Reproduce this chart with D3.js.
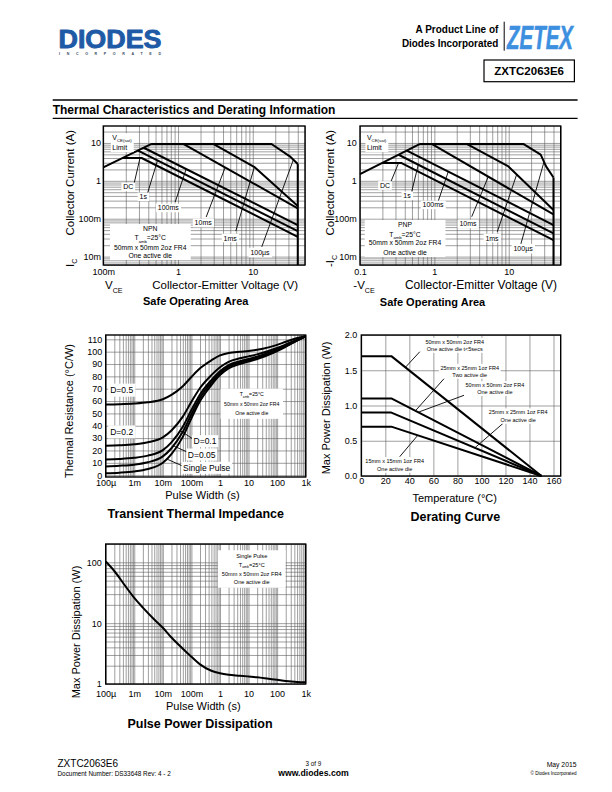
<!DOCTYPE html>
<html><head><meta charset="utf-8">
<script src="https://cdn.jsdelivr.net/npm/d3@7/dist/d3.min.js"></script>
<style>html,body{margin:0;padding:0;background:#fff;}svg{display:block;}</style>
</head><body>
<svg id="page" width="612" height="792" xmlns="http://www.w3.org/2000/svg"></svg>
<script>
// ======================= DATA =======================
// Safe Operating Area – NPN  (Vce [V], Ic [A])
const npnVsatLimit = [[0.1, 2.26], [0.442, 9.4]];
const npnDC    = [[0.181, 4.0], [0.326, 4.0], [40, 0.0333]];
const npn1s    = [[0.292, 6.3], [40, 0.047]];
const npn100ms = [[0.348, 7.47], [40, 0.068]];
const npn10ms  = [[0.442, 9.4], [1.175, 9.4], [40, 0.188]];
const npn1ms   = [[0.442, 9.4], [2.96, 9.4], [10.7, 2.26], [40, 0.216]];
const npn100us = [[0.442, 9.4], [17.8, 9.4], [31.3, 4.43], [40, 2.77]];
// Safe Operating Area – PNP  (-Vce [V], -Ic [A])
const pnpVsatLimit = [[0.1, 1.5], [0.642, 9.4]];
const pnpDC    = [[0.198, 2.94], [0.363, 2.94], [40, 0.0272]];
const pnp1s    = [[0.331, 4.88], [40, 0.0408]];
const pnp100ms = [[0.427, 6.3], [40, 0.068]];
const pnp10ms  = [[0.642, 9.4], [0.92, 9.4], [40, 0.13]];
const pnp1ms   = [[0.642, 9.4], [2.72, 9.4], [9.9, 2.4], [40, 0.17]];
const pnp100us = [[0.642, 9.4], [15.7, 9.4], [26.9, 4.9], [31.8, 2.4], [40, 1.22]];
const breakdownV = 40;
const soaCurveNames = ["DC", "1s", "100ms", "10ms", "1ms", "100µs"];
const soaXTicks = [0.1, 1, 10];
const npnXTickLabels = ["100m", "1", "10"];
const pnpXTickLabels = ["0.1", "1", "10"];
const soaYTicks = [0.01, 0.1, 1, 10];
const soaYTickLabels = ["10m", "100m", "1", "10"];
// annotation anchors (data units)
const npnLabelAt  = [[0.216, 0.69], [0.342, 0.377], [0.74, 0.192], [2.17, 0.0769], [4.98, 0.0308], [12.5, 0.0131]];
const npnLeadFrom = [[0.259, 0.869], [0.391, 0.472], [0.917, 0.277], [2.38, 0.111], [5.93, 0.0472], [13.2, 0.0181]];
const npnLeadTipV = [0.31, 0.532, 1.285, 4.27, 10.5, 34.9];
const pnpLabelAt  = [[0.217, 0.75], [0.429, 0.4], [0.96, 0.231], [2.83, 0.0723], [5.96, 0.0308], [15.6, 0.0167]];
const pnpLeadFrom = [[0.259, 0.924], [0.496, 0.52], [1.13, 0.295], [3.18, 0.113], [7.02, 0.0452], [14.2, 0.0181]];
const pnpLeadTipV = [0.33, 0.608, 1.54, 5.31, 12.8, 29.8];
const npnInfoAt = [0.425, [0.0533, 0.0308, 0.0177, 0.0109]];
const pnpInfoAt = [0.403, [0.068, 0.039, 0.0227, 0.0131]];
const npnLimitAt = [0.132, [13.8, 7.5]];
const pnpLimitAt = [0.124, [13.8, 7.5]];

// Transient Thermal Impedance (pulse width [s], Rth [°C/W])
const thTime   = [1e-4, 3e-4, 1e-3, 3e-3, 1e-2, 2e-2, 5e-2, 0.1, 0.2, 0.5, 1, 2, 5, 10, 20, 50, 100, 200, 500, 1000];
const thD05    = [57.3, 57.5, 58, 59, 61.5, 65, 72, 79.5, 86.5, 93, 97, 99, 100, 100.5, 101.5, 103.5, 105.5, 108, 111, 112.5];
const thD02    = [23.8, 24.2, 25, 26.6, 30.6, 36.2, 47.4, 59.4, 70.6, 81, 87.4, 91.8, 94.6, 96.2, 97.8, 100.6, 103, 105.8, 109.8, 112.5];
const thD01    = [12.7, 13.1, 14, 15.8, 20.3, 26.6, 39.2, 52.7, 65.3, 77, 84.2, 89.2, 92.3, 94.1, 95.9, 99.1, 101.8, 104.9, 109.4, 112.5];
const thD005   = [7.1, 7.6, 8.5, 10.4, 15.2, 21.8, 35.1, 49.3, 62.7, 75, 82.6, 87.8, 91.2, 93.1, 95, 98.3, 101.1, 104.4, 109.2, 112.5];
const thSingle = [1.5, 2, 3, 5, 10, 17, 31, 46, 60, 73, 81, 86.5, 90, 92, 94, 97.5, 100.5, 104, 109, 112.5];
const thTicks = [1e-4, 1e-3, 1e-2, 0.1, 1, 10, 100, 1000];
const thTickLabels = ["100µ", "1m", "10m", "100m", "1", "10", "100", "1k"];
const thYTicks = [0, 10, 20, 30, 40, 50, 60, 70, 80, 90, 100, 110];
const thBoxLabelAt = {"D=0.5": [3.63e-4, 68.8], "D=0.2": [3.63e-4, 35]};
const thLeadLabels = ["D=0.1", "D=0.05", "Single Pulse"];
const thLeadLabelAt = [[0.299, 27.5], [0.229, 16.7], [0.343, 5.9]];
const thLeadFrom = [[0.107, 29.7], [0.0684, 18.9], [0.048, 7.5]];
const thLeadTipT = [0.04, 0.023, 0.0136];
const thInfoAt = [12.9, [65.5, 57.2, 49.9]];

// Derating Curve (temperature [°C], power [W])
const derTemp = [0, 25, 150];
const derPower = [[1.7, 1.7, 0], [1.1, 1.1, 0], [0.9, 0.9, 0], [0.7, 0.7, 0]];
const derXTicks = [0, 20, 40, 60, 80, 100, 120, 140, 160];
const derYTicks = [0, 0.5, 1.0, 1.5, 2.0];
const derNoteLines = [
  ["50mm x 50mm 2oz FR4", "One active die t<5secs"],
  ["25mm x 25mm 1oz FR4", "Two active die"],
  ["50mm x 50mm 2oz FR4", "One active die"],
  ["25mm x 25mm 1oz FR4", "One active die"],
  ["15mm x 15mm 1oz FR4", "One active die"]];
const derNoteAt = [[77.8, [1.905, 1.80]], [90.3, [1.536, 1.433]], [111.2, [1.291, 1.187]], [130.6, [0.904, 0.794]], [27.8, [0.213, 0.099]]];
const derLeadFrom = [[48.7, 1.763], [70.3, 1.408], [86.2, 1.149], [118.1, 0.748], [32, 0.274]];
const derLeadTipT = [36.7, 45, 47.3, 94.5, 47];
const derLeadSeries = [0, 1, 1, 2, 3];

// Pulse Power Dissipation (pulse width [s], power [W])
const ppTime  = [1e-4, 2e-4, 5e-4, 1e-3, 2e-3, 5e-3, 1e-2, 2e-2, 5e-2, 0.1, 0.2, 0.5, 1, 2, 5, 10, 20, 50, 100, 200, 500, 1000];
const ppPower = [103, 72, 40, 26, 18, 11.5, 8.4, 5.8, 3.8, 2.8, 2.1, 1.65, 1.5, 1.42, 1.37, 1.33, 1.29, 1.22, 1.17, 1.12, 1.08, 1.07];
const ppYTicks = [1, 10, 100];
const ppYTickLabels = ["1", "10", "100"];
const ppInfoAt = [12.9, [128, 91.4, 64.4, 46.9]];

// ======================= DRAWING =======================
const FONT = "'Liberation Sans', Arial, Helvetica, sans-serif";
const GRID_C = "#5e5e5e", GRID_W = 0.6, CURVE_W = 2, TICK_FS = 9;
const svg = d3.select("#page").attr("font-family", FONT);
svg.append("rect").attr("width", 612).attr("height", 792).attr("fill", "#fff");

function logGrid(lo, hi) {
  const v = [];
  for (let e = Math.floor(Math.log10(lo)) - 1; e <= Math.ceil(Math.log10(hi)); e++)
    for (let m = 1; m < 10; m++) { const x = +(m * Math.pow(10, e)).toPrecision(6); if (x >= lo * 0.999 && x <= hi * 1.001) v.push(x); }
  return v;
}
function rich(sel, parts, fs) {
  let shift = 0;
  parts.forEach(p => {
    const [t, k] = Array.isArray(p) ? p : [p, null];
    const ts = sel.append("tspan").text(t);
    if (k === "sub") { const s = fs * 0.3; ts.attr("font-size", fs * 0.62).attr("dy", s - shift); shift = s; }
    else if (shift) { ts.attr("dy", -shift); shift = 0; }
  });
  return sel;
}
function interp(curve, xv, lx, ly) {
  const fx = v => lx ? Math.log10(v) : v, fy = v => ly ? Math.log10(v) : v, gy = v => ly ? Math.pow(10, v) : v;
  for (let i = 0; i < curve.length - 1; i++) {
    const a = curve[i], b = curve[i + 1];
    if (xv >= a[0] && xv <= b[0]) { const t = (fx(xv) - fx(a[0])) / (fx(b[0]) - fx(a[0])); return gy(fy(a[1]) + t * (fy(b[1]) - fy(a[1]))); }
  }
  return curve[curve.length - 1][1];
}
function panelBase(o) {
  const g = svg.append("g");
  const { x, y } = o;
  const [x0, x1] = x.range(), yb = y.range()[0], yt = y.range()[1];
  const gx = g.append("g").attr("transform", `translate(0,${yb})`)
    .call(d3.axisBottom(x).tickValues(o.xGrid).tickSize(-(yb - yt)).tickFormat(""));
  gx.select(".domain").remove();
  gx.selectAll("line").attr("stroke", GRID_C).attr("stroke-width", GRID_W);
  const gy = g.append("g").attr("transform", `translate(${x0},0)`)
    .call(d3.axisLeft(y).tickValues(o.yGrid).tickSize(-(x1 - x0)).tickFormat(""));
  gy.select(".domain").remove();
  gy.selectAll("line").attr("stroke", GRID_C).attr("stroke-width", GRID_W);
  g.append("rect").attr("x", x0).attr("y", yt).attr("width", x1 - x0).attr("height", yb - yt)
    .attr("fill", "none").attr("stroke", "#000").attr("stroke-width", 1.4);
  const tx = g.append("g").attr("transform", `translate(0,${yb})`)
    .call(d3.axisBottom(x).tickValues(o.xTicks).tickFormat((d, i) => o.xLabels[i]).tickSize(0).tickPadding(o.xPad));
  tx.select(".domain").remove(); tx.attr("font-family", FONT).attr("font-size", TICK_FS);
  const ty = g.append("g").attr("transform", `translate(${x0},0)`)
    .call(d3.axisLeft(y).tickValues(o.yTicks).tickFormat((d, i) => o.yLabels[i]).tickSize(0).tickPadding(o.yPad));
  ty.select(".domain").remove(); ty.attr("font-family", FONT).attr("font-size", TICK_FS);
  return g;
}
function drawCurve(g, x, y, data, smooth) {
  g.append("path").datum(data)
    .attr("d", d3.line().x(d => x(d[0])).y(d => y(d[1])).curve(smooth ? d3.curveMonotoneX : d3.curveLinear))
    .attr("fill", "none").attr("stroke", "#000").attr("stroke-width", CURVE_W)
    .attr("stroke-linejoin", "round").attr("stroke-linecap", "butt");
}
function leader(g, x1, y1, x2, y2) {
  g.append("line").attr("x1", x1).attr("y1", y1).attr("x2", x2).attr("y2", y2)
    .attr("stroke", "#000").attr("stroke-width", 0.9);
}
function boxedBlock(g, cx, ys, lines, fs, pad, anchor) {
  const gg = g.append("g");
  lines.forEach((parts, i) => {
    const t = gg.append("text").attr("x", cx).attr("y", ys[i]).attr("dy", "0.35em")
      .attr("font-size", fs).attr("text-anchor", anchor || "middle").attr("fill", "#000");
    rich(t, Array.isArray(parts) ? parts : [parts], fs);
  });
  const b = gg.node().getBBox();
  gg.insert("rect", ":first-child").attr("x", b.x - pad[0]).attr("y", b.y - pad[1])
    .attr("width", b.width + 2 * pad[0]).attr("height", b.height + 2 * pad[1]).attr("fill", "#fff");
  return gg;
}
function text(g, x, y, str, fs, anchor, weight) {
  return g.append("text").attr("x", x).attr("y", y).attr("font-size", fs)
    .attr("text-anchor", anchor || "start").attr("font-weight", weight || "normal").attr("fill", "#000").text(str);
}
function rotText(g, x, y, parts, fs, anchor) {
  const t = g.append("text").attr("transform", `translate(${x},${y}) rotate(-90)`)
    .attr("font-size", fs).attr("text-anchor", anchor).attr("fill", "#000");
  return rich(t, parts, fs);
}

// ---------- header ----------
const hdr = svg.append("g");
hdr.append("text").attr("x", 58.5).attr("y", 48.3).attr("font-size", 25).attr("font-weight", "bold")
  .attr("fill", "#1f5aa6").attr("stroke", "#1f5aa6").attr("stroke-width", 0.9).attr("stroke-linejoin", "round")
  .attr("textLength", 103).attr("lengthAdjust", "spacingAndGlyphs").text("DIODES");
hdr.append("text").attr("x", 59).attr("y", 55.2).attr("font-size", 3.6).attr("font-weight", "bold")
  .attr("fill", "#3a4a66").attr("textLength", 102).attr("lengthAdjust", "spacing").text("INCORPORATED");
hdr.append("text").attr("x", 498.3).attr("y", 33).attr("font-size", 10.5).attr("font-weight", "bold")
  .attr("text-anchor", "end").attr("textLength", 82.7).attr("lengthAdjust", "spacingAndGlyphs").text("A Product Line of");
hdr.append("text").attr("x", 498.3).attr("y", 46.5).attr("font-size", 10.5).attr("font-weight", "bold")
  .attr("text-anchor", "end").attr("textLength", 96.4).attr("lengthAdjust", "spacingAndGlyphs").text("Diodes Incorporated");
hdr.append("line").attr("x1", 504.2).attr("x2", 504.2).attr("y1", 21.7).attr("y2", 50.7).attr("stroke", "#000").attr("stroke-width", 1);
hdr.append("text").attr("x", 507).attr("y", 49.3).attr("font-size", 33).attr("font-weight", "bold").attr("font-style", "italic")
  .attr("fill", "#3d8fe0").attr("stroke", "#3d8fe0").attr("stroke-width", 0.6)
  .attr("textLength", 66).attr("lengthAdjust", "spacingAndGlyphs").text("ZETEX");
hdr.append("rect").attr("x", 484).attr("y", 60).attr("width", 90.4).attr("height", 21.7).attr("fill", "none").attr("stroke", "#000").attr("stroke-width", 1.2);
text(hdr, 529.2, 75, "ZXTC2063E6", 11.5, "middle", "bold");
hdr.append("line").attr("x1", 52.7).attr("x2", 577.6).attr("y1", 100).attr("y2", 100).attr("stroke", "#000").attr("stroke-width", 1.3);
hdr.append("line").attr("x1", 52.7).attr("x2", 577.6).attr("y1", 118.3).attr("y2", 118.3).attr("stroke", "#000").attr("stroke-width", 1.3);
text(hdr, 52.7, 114, "Thermal Characteristics and Derating Information", 12, "start", "bold");

// ---------- SOA panels ----------
function soaPanel(cfg) {
  const x = d3.scaleLog().domain([0.1, 50]).range(cfg.xr);
  const y = d3.scaleLog().domain([0.006, 28]).range([265, 126]);
  const g = panelBase({ x, y, xGrid: logGrid(0.1, 50), yGrid: logGrid(0.006, 28),
    xTicks: soaXTicks, xLabels: cfg.xLabels, xPad: 3.3, yTicks: soaYTicks, yLabels: soaYTickLabels, yPad: cfg.yPad });
  const curves = cfg.curves;
  drawCurve(g, x, y, cfg.limit);
  curves.forEach(c => drawCurve(g, x, y, c));
  const last = curves[curves.length - 1];
  drawCurve(g, x, y, [[breakdownV, last[last.length - 1][1]], [breakdownV, y.domain()[0]]]);
  soaCurveNames.forEach((n, i) => {
    const f = cfg.leadFrom[i], tv = cfg.leadTip[i];
    leader(g, x(f[0]), y(f[1]), x(tv), y(interp(curves[i], tv, true, true)));
    boxedBlock(g, x(cfg.labelAt[i][0]), [y(cfg.labelAt[i][1])], [n], 7, [1.8, 0.8]);
  });
  boxedBlock(g, x(cfg.infoAt[0]), cfg.infoAt[1].map(y), [cfg.type, ["T", ["amb", "sub"], "=25°C"], "50mm x 50mm 2oz FR4", "One active die"], 6.8, [4, 1.5]);
  boxedBlock(g, x(cfg.limitAt[0]), cfg.limitAt[1].map(y), [["V", ["CE(sat)", "sub"]], "Limit"], 7, [1.5, 1], "start");
  const t = svg.append("g");
  rotText(t, cfg.yTitleX, 267, cfg.yTitleStart, 11.5, "start");
  rotText(t, cfg.yTitleX, 130, ["Collector Current (A)"], 11.5, "end");
  const xt = t.append("text").attr("x", cfg.xTitleStartX).attr("y", 289.3).attr("font-size", 11.5).attr("fill", "#000");
  rich(xt, cfg.xTitleStart, 11.5);
  text(t, cfg.xTitleEndX, 289.3, "Collector-Emitter Voltage (V)", cfg.xTitleFs, "end");
  text(t, cfg.titleX, cfg.titleY, "Safe Operating Area", 11, "middle", "bold");
}
soaPanel({ xr: [103.3, 305], xLabels: npnXTickLabels, yPad: 2.3, limit: npnVsatLimit,
  curves: [npnDC, npn1s, npn100ms, npn10ms, npn1ms, npn100us],
  labelAt: npnLabelAt, leadFrom: npnLeadFrom, leadTip: npnLeadTipV, infoAt: npnInfoAt, limitAt: npnLimitAt, type: "NPN",
  yTitleX: 74, yTitleStart: ["I", ["C", "sub"]], xTitleStartX: 105, xTitleStart: ["V", ["CE", "sub"]],
  xTitleEndX: 298, xTitleFs: 11.5, titleX: 195.7, titleY: 305 });
soaPanel({ xr: [360, 560.7], xLabels: pnpXTickLabels, yPad: 3.3, limit: pnpVsatLimit,
  curves: [pnpDC, pnp1s, pnp100ms, pnp10ms, pnp1ms, pnp100us],
  labelAt: pnpLabelAt, leadFrom: pnpLeadFrom, leadTip: pnpLeadTipV, infoAt: pnpInfoAt, limitAt: pnpLimitAt, type: "PNP",
  yTitleX: 334, yTitleStart: ["-I", ["C", "sub"]], xTitleStartX: 353.3, xTitleStart: ["-V", ["CE", "sub"]],
  xTitleEndX: 557, xTitleFs: 12, titleX: 432.5, titleY: 306 });

// ---------- Transient thermal impedance ----------
(function () {
  const x = d3.scaleLog().domain([1e-4, 1e3]).range([105.7, 305.7]);
  const y = d3.scaleLinear().domain([-1.5, 113.5]).range([477, 335]);
  const g = panelBase({ x, y, xGrid: logGrid(1e-4, 1e3), yGrid: thYTicks,
    xTicks: thTicks, xLabels: thTickLabels, xPad: 2.4, yTicks: thYTicks, yLabels: thYTicks.map(String), yPad: 3.5 });
  const series = [thD05, thD02, thD01, thD005, thSingle].map(s => thTime.map((t, i) => [t, s[i]]));
  series.forEach(s => drawCurve(g, x, y, s, true));
  Object.entries(thBoxLabelAt).forEach(([k, p]) => boxedBlock(g, x(p[0]), [y(p[1])], [k], 8.5, [2, 1.5]));
  const leadSeries = [series[2], series[3], series[4]];
  thLeadLabels.forEach((n, i) => {
    const f = thLeadFrom[i], tv = thLeadTipT[i];
    leader(g, x(f[0]), y(f[1]), x(tv), y(interp(leadSeries[i], tv, true, false)));
    boxedBlock(g, x(thLeadLabelAt[i][0]), [y(thLeadLabelAt[i][1])], [n], 8.5, [1.5, 1]);
  });
  boxedBlock(g, x(thInfoAt[0]), thInfoAt[1].map(y), [["T", ["amb", "sub"], "=25°C"], "50mm x 50mm 2oz FR4", "One active die"], 5.2, [3.5, 2.5]);
  rotText(svg, 72.5, 411, ["Thermal Resistance (°C/W)"], 11, "middle");
  text(svg, 202.5, 499, "Pulse Width (s)", 11, "middle");
  text(svg, 195.7, 518, "Transient Thermal Impedance", 12.5, "middle", "bold");
})();

// ---------- Derating curve ----------
(function () {
  const x = d3.scaleLinear().domain([0, 166]).range([361.3, 560.7]);
  const y = d3.scaleLinear().domain([0, 2]).range([476, 335]);
  const g = panelBase({ x, y, xGrid: derXTicks, yGrid: derYTicks,
    xTicks: derXTicks, xLabels: derXTicks.map(String), xPad: 1.6, yTicks: derYTicks, yLabels: derYTicks.map(d3.format(".1f")), yPad: 4 });
  const series = derPower.map(p => derTemp.map((t, i) => [t, p[i]]));
  series.forEach(s => drawCurve(g, x, y, s));
  derNoteLines.forEach((lines, i) => {
    const f = derLeadFrom[i], tv = derLeadTipT[i];
    leader(g, x(f[0]), y(f[1]), x(tv), y(interp(series[derLeadSeries[i]], tv, false, false)));
    boxedBlock(g, x(derNoteAt[i][0]), derNoteAt[i][1].map(y), lines, 5.5, [1.5, 0.8]);
  });
  rotText(svg, 330, 408, ["Max Power Dissipation (W)"], 11, "middle");
  text(svg, 454.7, 502, "Temperature (°C)", 11, "middle");
  text(svg, 455.3, 521, "Derating Curve", 12.5, "middle", "bold");
})();

// ---------- Pulse power dissipation ----------
(function () {
  const x = d3.scaleLog().domain([1e-4, 1e3]).range([105.7, 305.7]);
  const y = d3.scaleLog().domain([1, 200]).range([684, 544]);
  const g = panelBase({ x, y, xGrid: logGrid(1e-4, 1e3), yGrid: logGrid(1, 200),
    xTicks: thTicks, xLabels: thTickLabels, xPad: 6.6, yTicks: ppYTicks, yLabels: ppYTickLabels, yPad: 4 });
  drawCurve(g, x, y, ppTime.map((t, i) => [t, ppPower[i]]), true);
  boxedBlock(g, x(ppInfoAt[0]), ppInfoAt[1].map(y), ["Single Pulse", ["T", ["amb", "sub"], "=25°C"], "50mm x 50mm 2oz FR4", "One active die"], 5.6, [4, 2.5]);
  rotText(svg, 79.5, 632, ["Max Power Dissipation (W)"], 11, "middle");
  text(svg, 203.3, 710, "Pulse Width (s)", 11, "middle");
  text(svg, 200, 728, "Pulse Power Dissipation", 12.5, "middle", "bold");
})();

// ---------- footer ----------
const ft = svg.append("g");
text(ft, 57.5, 767, "ZXTC2063E6", 10);
text(ft, 57.5, 776, "Document Number: DS33648 Rev: 4 - 2", 6.4);
text(ft, 313.5, 766, "3 of 9", 6.3, "middle");
text(ft, 313.5, 776, "www.diodes.com", 8.7, "middle", "bold");
text(ft, 576.5, 766.5, "May 2015", 6.8, "end");
text(ft, 576.5, 775, "© Diodes Incorporated", 4.6, "end");
</script>
</body></html>
